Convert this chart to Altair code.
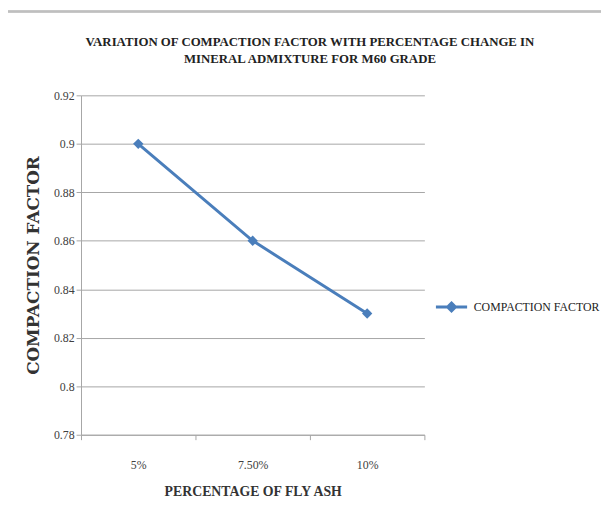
import altair as alt
import pandas as pd

categories = ["5%", "7.50%", "10%"]
values = [0.90, 0.86, 0.83]
series_name = "COMPACTION FACTOR"
y_ticks = [0.78, 0.80, 0.82, 0.84, 0.86, 0.88, 0.90, 0.92]

df = pd.DataFrame({"pct": categories, "cf": values, "series": [series_name] * len(categories)})

BLUE = "#4A7EBB"
GRID = "#a6a6a6"
SERIF = "Liberation Serif"

x_enc = alt.X("pct:N", sort=categories,
              axis=alt.Axis(title="PERCENTAGE OF FLY ASH", labelAngle=0, tickBand="extent",
                            labelPadding=20, titlePadding=15, tickSize=5))
y_enc = alt.Y("cf:Q", scale=alt.Scale(domain=[0.78, 0.92], nice=False, zero=False),
              axis=alt.Axis(title="COMPACTION FACTOR", values=y_ticks, format=".2~f",
                            labelPadding=2, titlePadding=11, tickSize=5, grid=True,
                            titleFont="DejaVu Serif", titleFontSize=17))
color_enc = alt.Color("series:N", scale=alt.Scale(range=[BLUE]),
                      legend=alt.Legend(title=None, orient="none", legendX=358, legendY=197,
                                        symbolType="M-1,0L1,0M0,-0.25L0.25,0L0,0.25L-0.25,0Z",
                                        symbolSize=1000, symbolStrokeWidth=3,
                                        symbolFillColor=BLUE, symbolStrokeColor=BLUE,
                                        labelFont=SERIF, labelFontSize=12, labelColor="#222222",
                                        labelOffset=5))

line = alt.Chart(df).mark_line(strokeWidth=3).encode(x=x_enc, y=y_enc, color=color_enc)
pts = alt.Chart(df).mark_point(shape="diamond", filled=True, size=110, opacity=1).encode(
    x=x_enc, y=y_enc, color=alt.Color("series:N", scale=alt.Scale(range=[BLUE]), legend=None))

border = alt.Chart(df).mark_rule(color="#bfbfbf", strokeWidth=2).encode(
    x=alt.value(-75), x2=alt.value(600), y=alt.value(-85))
border2 = alt.Chart(df).mark_rule(color="#bfbfbf", strokeWidth=2).encode(
    x=alt.value(-75), y=alt.value(-85), y2=alt.value(440))

chart = alt.layer(border, border2, line, pts).properties(
    width=348, height=344,
    autosize=alt.AutoSizeParams(type="none"),
    padding={"left": 74, "top": 85, "right": 179, "bottom": 90},
    title=alt.Title(["VARIATION OF COMPACTION FACTOR WITH PERCENTAGE CHANGE IN",
                     "MINERAL ADMIXTURE FOR M60 GRADE"],
                    font=SERIF, fontSize=13, fontWeight="bold", color="#222222",
                    anchor="middle", dx=58, offset=-56, lineHeight=17)
).configure_view(stroke=None).configure_axis(
    labelFont=SERIF, labelFontSize=12, labelColor="#404040",
    titleFont=SERIF, titleFontWeight="bold", titleColor="#333333",
    domainColor=GRID, tickColor=GRID, gridColor=GRID, gridWidth=1
).configure_axisX(titleFontSize=14)

chart.save("out.html", embed_options={"renderer": "svg", "actions": False})
